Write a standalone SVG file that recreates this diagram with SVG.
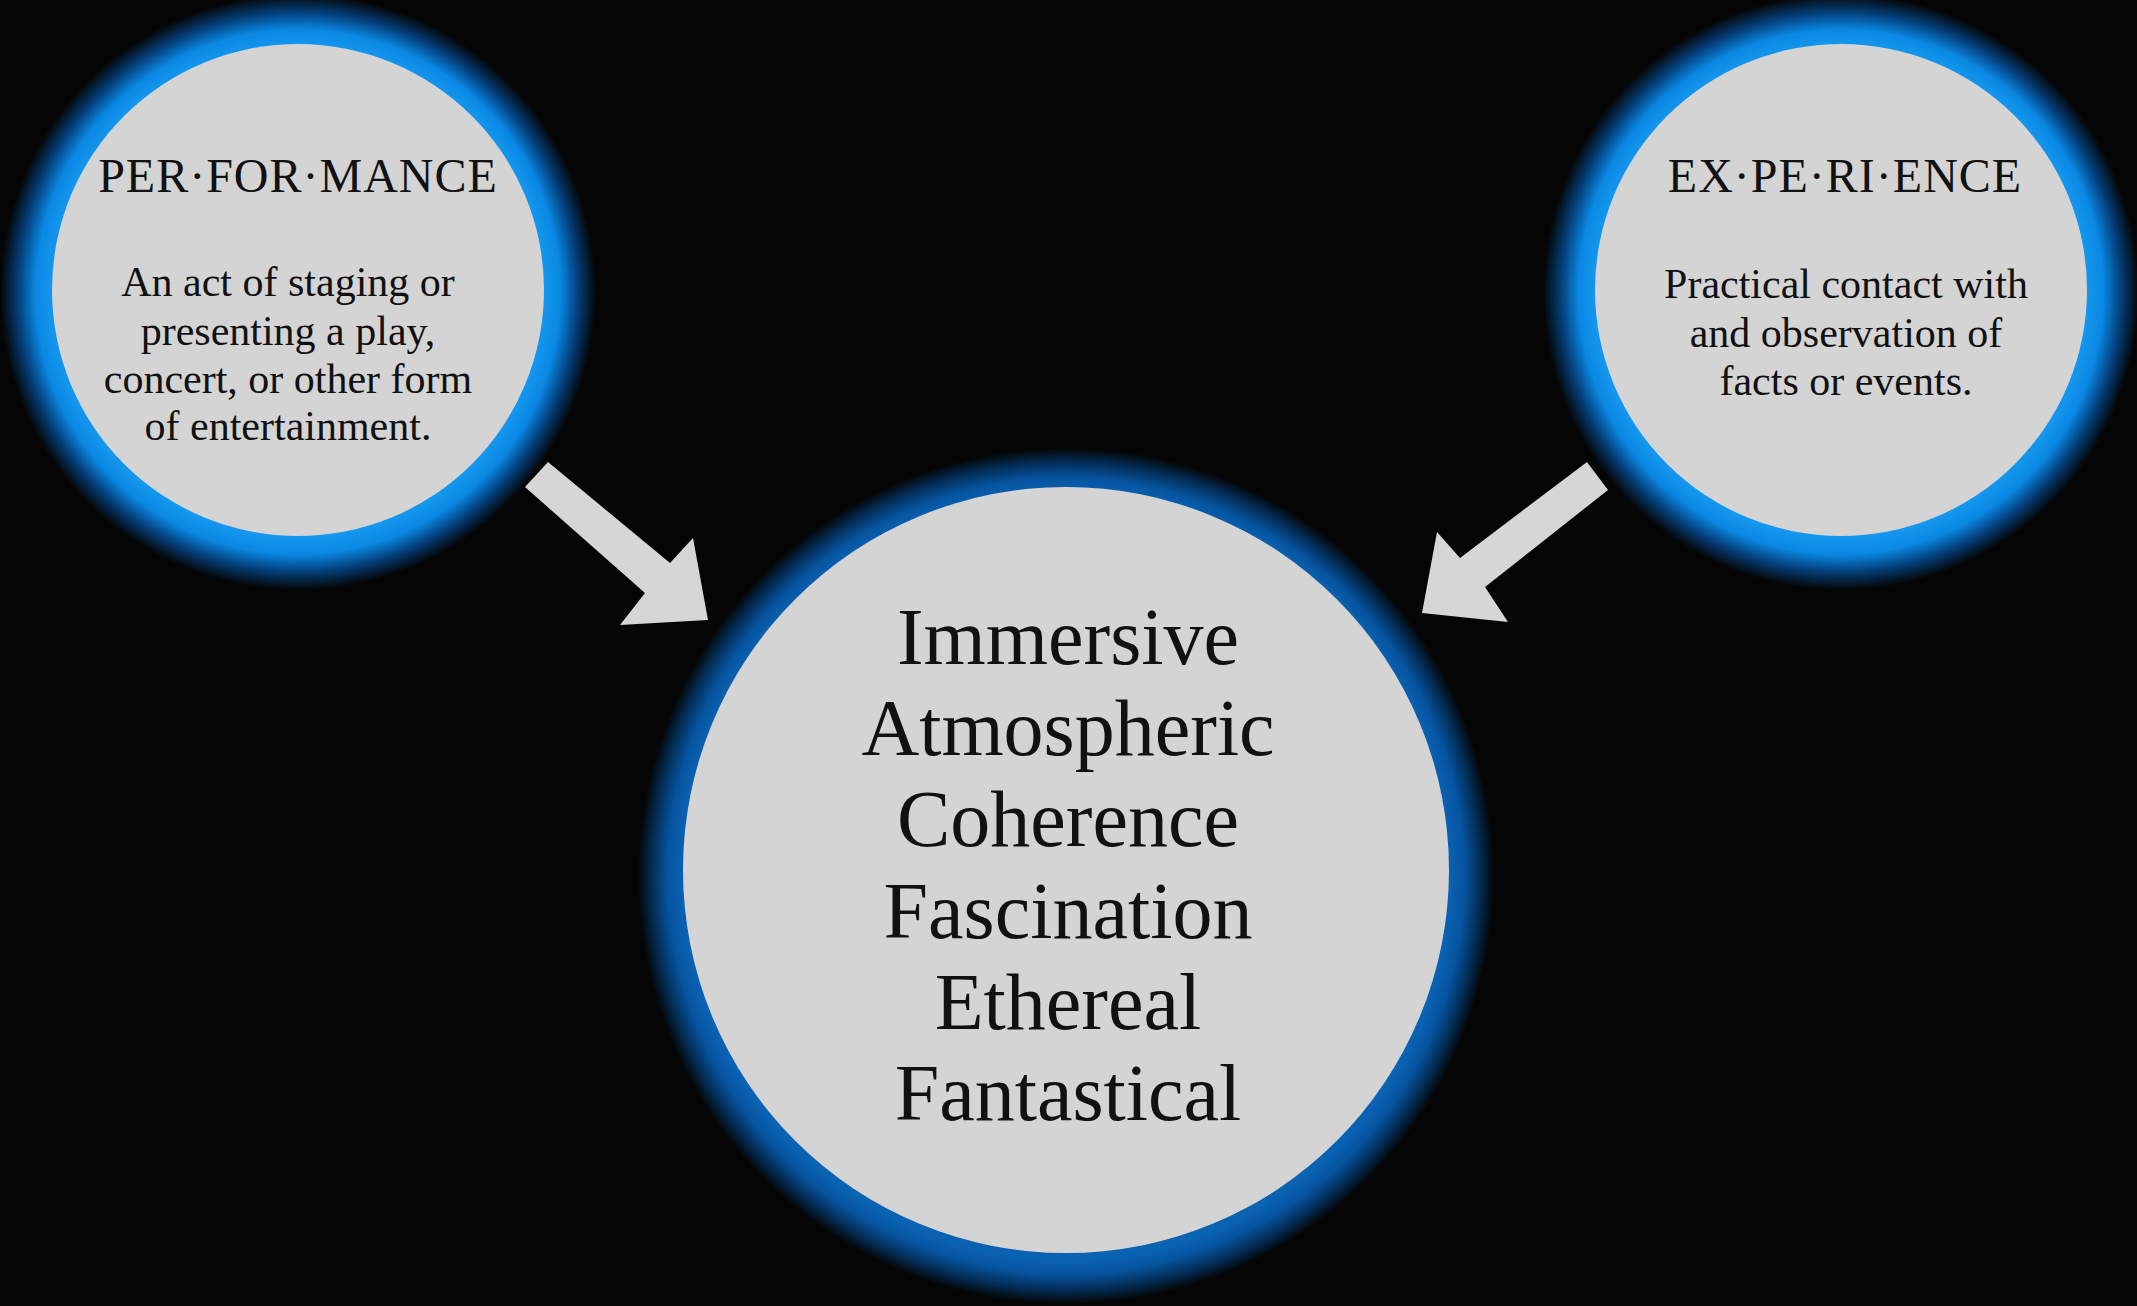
<svg xmlns="http://www.w3.org/2000/svg" width="2137" height="1306" viewBox="0 0 2137 1306">
<defs>
<radialGradient id="glowSide" cx="0.5" cy="0.5" r="0.5">
<stop offset="0" stop-color="#0a8ee8"/>
<stop offset="0.82" stop-color="#1598ef"/>
<stop offset="0.88" stop-color="#0a88e4"/>
<stop offset="0.94" stop-color="#043e78"/>
<stop offset="1" stop-color="#050505"/>
</radialGradient>
<radialGradient id="glowCenter" cx="0.5" cy="0.5" r="0.5">
<stop offset="0" stop-color="#0a5fae"/>
<stop offset="0.895" stop-color="#0a62b2"/>
<stop offset="0.93" stop-color="#0654a0"/>
<stop offset="0.97" stop-color="#032a50"/>
<stop offset="1" stop-color="#050505"/>
</radialGradient>
<style>
.disc{fill:#d4d4d4}
.title{font-family:"Liberation Serif",serif;font-size:48px;fill:#111;text-anchor:middle;letter-spacing:1px}
.body{font-family:"Liberation Serif",serif;font-size:42px;fill:#111;text-anchor:middle}
.big{font-family:"Liberation Serif",serif;font-size:80px;fill:#111;text-anchor:middle}
.arrow{fill:#d6d6d6}
</style>
</defs>
<rect width="2137" height="1306" fill="#050505"/>
<g id="performance">
<circle cx="298" cy="292" r="298" fill="url(#glowSide)"/>
<circle class="disc" cx="298" cy="290" r="246"/>
<text class="title" x="298" y="192">PER·FOR·MANCE</text>
<text class="body" x="288" y="296">An act of staging or</text>
<text class="body" x="288" y="345">presenting a play,</text>
<text class="body" x="288" y="393">concert, or other form</text>
<text class="body" x="288" y="440">of entertainment.</text>
</g>
<g id="experience">
<circle cx="1841" cy="292" r="298" fill="url(#glowSide)"/>
<circle class="disc" cx="1841" cy="290" r="246"/>
<text class="title" x="1845" y="192">EX·PE·RI·ENCE</text>
<text class="body" x="1846" y="298">Practical contact with</text>
<text class="body" x="1846" y="347">and observation of</text>
<text class="body" x="1846" y="395">facts or events.</text>
</g>
<g id="result">
<circle cx="1066" cy="876" r="428" fill="url(#glowCenter)"/>
<circle class="disc" cx="1066" cy="870" r="383"/>
<text class="big" x="1068" y="664">Immersive</text>
<text class="big" x="1068" y="755">Atmospheric</text>
<text class="big" x="1068" y="846">Coherence</text>
<text class="big" x="1068" y="938">Fascination</text>
<text class="big" x="1068" y="1029">Ethereal</text>
<text class="big" x="1068" y="1120">Fantastical</text>
</g>
<g id="connectors">
<polygon class="arrow" points="548,462 670,563 693,538 708,620 620,625 645,593 525,487"/>
<polygon class="arrow" points="1587,462 1460,558 1437,532 1422,613 1508,622 1485,587 1608,490"/>
</g>
</svg>
